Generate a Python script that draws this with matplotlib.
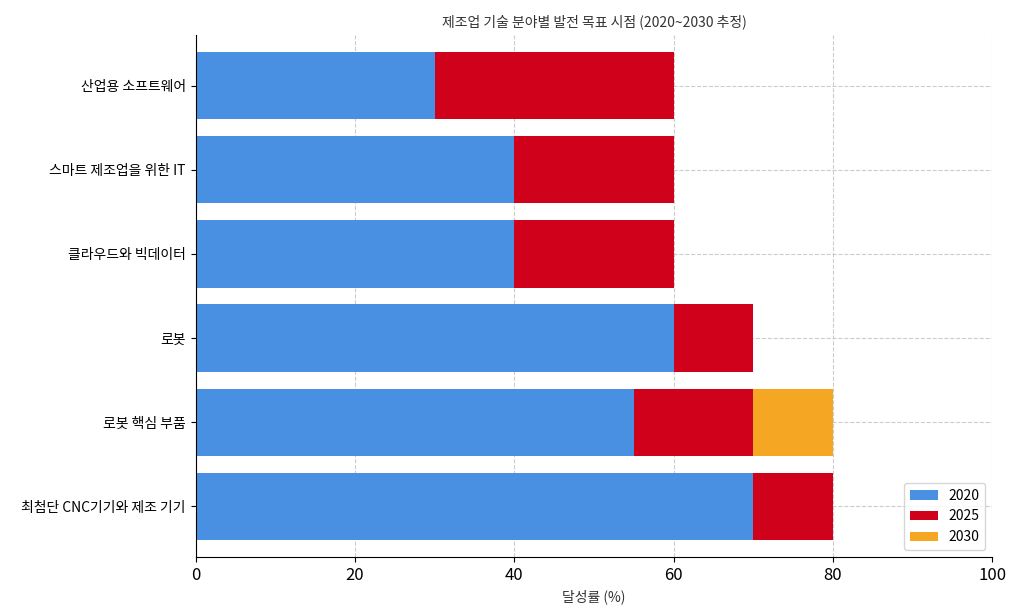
import matplotlib
matplotlib.use("Agg")
import matplotlib.pyplot as plt
plt.rcParams['font.family'] = ['Noto Sans CJK KR', 'DejaVu Sans']

categories = ["최첨단 CNC기기와 제조 기기", "로봇 핵심 부품", "로봇", "클라우드와 빅데이터", "스마트 제조업을 위한 IT", "산업용 소프트웨어"]
v2020 = [70, 55, 60, 40, 40, 30]
v2025 = [10, 15, 10, 20, 20, 30]
v2030 = [0, 10, 0, 0, 0, 0]

fig = plt.figure(figsize=(10.24, 6.14), dpi=100)
ax = fig.add_axes([0.191, 0.093, 0.778, 0.85])
y = range(len(categories))
ax.barh(y, v2020, color="#4a90e2", label="2020", zorder=2)
ax.barh(y, v2025, left=v2020, color="#d0021b", label="2025", zorder=2)
left3 = [a + b for a, b in zip(v2020, v2025)]
ax.barh(y, v2030, left=left3, color="#f5a623", label="2030", zorder=2)
ax.set_yticks(list(y))
ax.set_yticklabels(categories, fontsize=10)
ax.set_xlim(0, 100)
ax.set_ylim(-0.6, 5.6)
ax.tick_params(axis='x', labelsize=12)
ax.grid(True, linestyle='--', color='#cccccc', linewidth=0.8, zorder=0)
ax.spines['top'].set_visible(False)
ax.spines['right'].set_visible(False)
ax.set_xlabel("달성률 (%)", fontsize=10, color='#333333')
ax.set_title("제조업 기술 분야별 발전 목표 시점 (2020~2030 추정)", fontsize=10, color='#333333')
ax.legend(loc='lower right', fontsize=10)
fig.savefig("out.png", dpi=100)
